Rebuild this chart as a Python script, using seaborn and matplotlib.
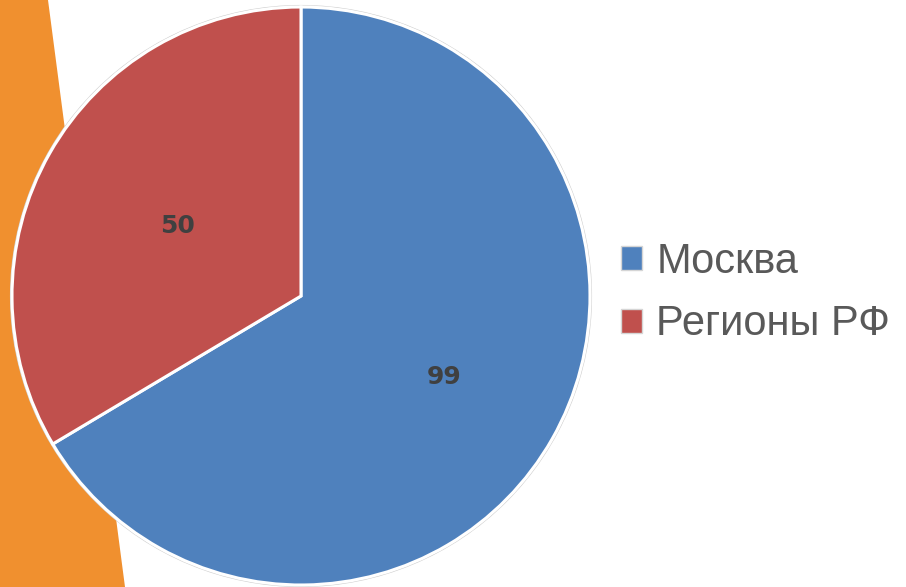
import numpy as np
import matplotlib
matplotlib.use("Agg")
import matplotlib.pyplot as plt
from matplotlib.patches import Patch, Polygon
import seaborn as sns

labels = ["Москва", "Регионы РФ"]
values = [99, 50]
colors = ["#4F81BD", "#C0504D"]
label_dist = [0.57, 0.49]  # how far from centre the value labels sit

sns.set_theme(style="white")
plt.rcParams['font.family'] = ['DejaVu Sans']

W, H = 906, 587
fig = plt.figure(figsize=(W / 100, H / 100), dpi=100)
ax = fig.add_axes([0, 0, 1, 1])

# orange decorative band on the left
ax.add_patch(Polygon([[0, H], [48, H], [125, 0], [0, 0]], closed=True,
                     facecolor="#F0902F", edgecolor="none", zorder=0))

cx, cy, r = 301, H - 296, 289
wedges, _ = ax.pie(values, colors=colors, startangle=90, counterclock=False,
                   center=(cx, cy), radius=r, frame=True,
                   wedgeprops=dict(edgecolor="white", linewidth=2.2))
ax.set_xlim(0, W)
ax.set_ylim(0, H)
ax.set_aspect('equal')
ax.axis('off')
for w in wedges:
    w.set_zorder(2)

# outer thin grey ring like the original shadow
ax.add_patch(plt.Circle((cx, cy), r + 1.5, facecolor="none",
                        edgecolor="#d0d0d0", linewidth=0.8, zorder=1))

for w, v, d in zip(wedges, values, label_dist):
    ang = np.deg2rad((w.theta1 + w.theta2) / 2)
    ax.text(cx + d * r * np.cos(ang), cy + d * r * np.sin(ang), str(v),
            ha='center', va='center', fontsize=18, fontweight='bold',
            color="#404040", zorder=3)

handles = [Patch(facecolor=c, edgecolor="#d5d5d5", linewidth=1.0) for c in colors]
leg = fig.legend(handles, labels, loc='center left',
                 bbox_to_anchor=(600 / W, 1 - 293 / H), frameon=False,
                 prop={'family': 'Liberation Sans', 'size': 30},
                 handlelength=0.5, handleheight=0.5,
                 handletextpad=0.35, labelspacing=0.55, borderpad=0)
for t in leg.get_texts():
    t.set_color("#595959")

plt.savefig("out.png", dpi=100)
